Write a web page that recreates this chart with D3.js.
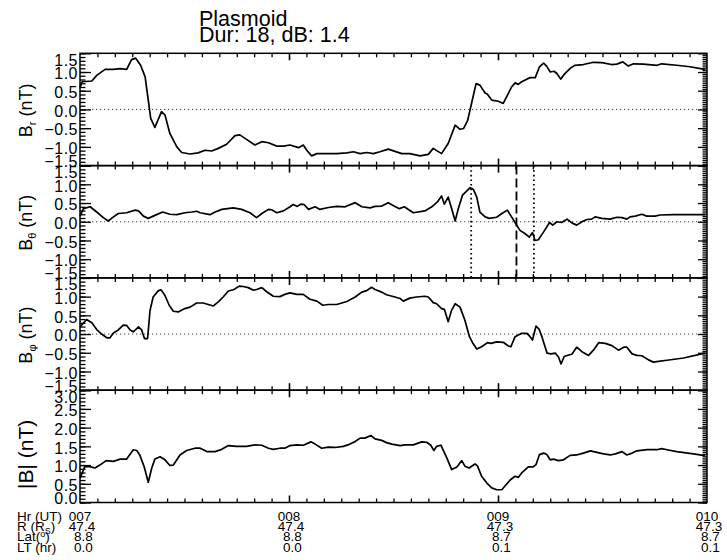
<!DOCTYPE html>
<html>
<head>
<meta charset="utf-8">
<script src="https://cdn.jsdelivr.net/npm/d3@7/dist/d3.min.js"></script>
<style>
  body { margin: 0; background: #fff; }
  text { font-family: "Liberation Sans", Arial, Helvetica, sans-serif; fill: #000; }
</style>
</head>
<body>
<svg id="chart" width="727" height="560"></svg>
<script>
// Time is minutes after 07:00 UT; field components in nT.
const brData = [[0,0.58],[0.6,0.74],[3.4,0.76],[4.8,0.91],[7.2,1.07],[9.6,1.07],[11.5,1.09],[13.4,1.07],[14.8,1.33],[16,1.37],[17.4,1.18],[18.7,0.87],[19.6,0.25],[20.3,-0.24],[21.5,-0.48],[23.4,-0.06],[24.4,-0.15],[25.8,-0.64],[27.8,-1.0],[29.2,-1.15],[31.6,-1.19],[33.9,-1.16],[35.9,-1.09],[37.8,-1.11],[39.7,-1.04],[42.1,-0.93],[44.5,-0.70],[45.9,-0.68],[47.8,-0.80],[50.2,-0.95],[52.2,-0.86],[54.1,-0.89],[56.5,-0.98],[58.4,-0.98],[60.3,-0.95],[62.7,-1.02],[64.1,-0.95],[65.1,-1.09],[66.5,-1.24],[68,-1.18],[70.8,-1.18],[73.7,-1.18],[76.6,-1.16],[78.5,-1.13],[80.4,-1.18],[82.3,-1.15],[84.2,-1.18],[86.1,-1.13],[88.5,-1.06],[90.4,-1.12],[92.4,-1.18],[94.7,-1.18],[97.6,-1.24],[100,-1.2],[101.4,-1.04],[102.4,-1.10],[103.8,-1.18],[105.7,-0.91],[107.7,-0.42],[109.1,-0.53],[110.1,-0.51],[111.3,-0.29],[112.5,0.20],[113.7,0.69],[114.8,0.65],[116.3,0.44],[116.9,0.41],[118.2,0.25],[120.1,0.22],[121.5,0.16],[122.5,0.34],[123.9,0.60],[124.9,0.71],[125.8,0.67],[126.8,0.74],[128.1,0.80],[129.2,0.85],[130.7,0.85],[131.9,1.14],[133.1,1.24],[134,1.15],[135,1.0],[136.1,1.02],[136.9,0.96],[138,0.81],[139.2,0.96],[140.9,1.11],[142.1,1.18],[144.5,1.2],[147.4,1.26],[149.8,1.25],[152.6,1.2],[154.1,1.21],[155.8,1.27],[157.4,1.16],[158.9,1.22],[161.7,1.21],[165.6,1.18],[167,1.22],[171.3,1.18],[175.1,1.14],[179.4,1.07]];

const bthData = [[0,0.15],[1,0.35],[2.9,0.40],[4.8,0.26],[6.7,0.11],[8.1,0.02],[9.6,0.13],[11,0.22],[13.4,0.24],[15.8,0.31],[16.8,0.29],[18.2,0.15],[19.6,0.09],[21.5,0.17],[23.7,0.26],[25.8,0.20],[27.8,0.19],[30.1,0.24],[32.1,0.26],[33.5,0.28],[34.5,0.24],[37.3,0.19],[38.8,0.26],[40.7,0.33],[44,0.37],[46.4,0.33],[48.8,0.24],[50.7,0.11],[52.2,0.22],[54.1,0.33],[55,0.32],[56.5,0.24],[58.4,0.29],[60.3,0.40],[61.2,0.46],[62.4,0.41],[63.4,0.47],[64.3,0.46],[65.6,0.33],[67.5,0.40],[68.9,0.33],[71.3,0.38],[73.7,0.41],[76.1,0.40],[79,0.51],[80.9,0.40],[83.3,0.37],[84.7,0.41],[86.6,0.42],[88.5,0.51],[90.4,0.41],[91.7,0.35],[93.1,0.40],[95.7,0.24],[99,0.29],[101,0.40],[102.6,0.53],[103.8,0.69],[104.6,0.47],[105.7,0.66],[106.7,0.35],[107.7,0.02],[108.6,0.35],[109.8,0.71],[111,0.82],[112,0.91],[112.9,0.87],[113.9,0.66],[114.8,0.26],[116.3,0.13],[117.5,0.09],[119.6,0.12],[121.1,0.22],[122.7,0.31],[123.9,0.13],[124.9,-0.02],[126.3,-0.23],[127.8,-0.32],[129,-0.41],[129.9,-0.29],[130.6,-0.50],[131.6,-0.48],[133.1,-0.27],[134.8,-0.02],[135.7,-0.09],[136.9,0.0],[138.3,-0.02],[139.8,0.07],[141.2,-0.03],[142.6,-0.09],[144.1,0.0],[145.5,0.06],[146.9,0.07],[147.9,0.13],[149.8,0.09],[152.2,0.07],[154.1,0.12],[155.6,0.11],[157,0.07],[157.9,0.13],[159.4,0.15],[161.3,0.20],[162.7,0.15],[165.1,0.15],[166.5,0.18],[170.4,0.19],[179.4,0.19]];

const bphData = [[0,0.19],[1.9,0.39],[3.4,0.30],[4.8,0.12],[6.2,0.0],[7.7,-0.10],[8.6,-0.10],[9.6,0.03],[11,0.11],[12.4,0.24],[13.4,0.23],[14.4,0.11],[15.3,0.06],[16.8,0.19],[17.7,0.11],[18.5,-0.12],[19.4,-0.12],[20.1,0.63],[21,0.99],[22.5,1.16],[23.3,1.18],[24.4,1.03],[25.6,0.77],[26.8,0.61],[28.2,0.59],[30.1,0.68],[31.6,0.72],[33.5,0.83],[35.4,0.83],[36.8,0.79],[38.3,0.75],[39.7,0.86],[41.1,0.99],[42.6,1.15],[44.2,1.19],[45.7,1.28],[46.9,1.27],[48.3,1.24],[49.8,1.17],[50.7,1.19],[52.2,1.24],[53.6,1.13],[55.5,1.01],[57.4,1.0],[58.8,1.06],[60.3,1.10],[62.2,1.06],[64.1,1.06],[66,0.93],[68,0.88],[69.7,0.77],[71.3,0.79],[73.7,0.79],[76.6,0.87],[79,0.99],[80.9,1.12],[82.3,1.16],[83.7,1.25],[84.7,1.19],[86.6,1.12],[88,1.05],[90.4,0.99],[91.9,0.95],[92.8,0.88],[94.7,0.96],[96.6,0.99],[99,1.01],[100,0.99],[101.4,0.84],[102.4,0.81],[103.8,0.68],[104.6,0.66],[105.7,0.33],[106.7,0.64],[107.7,0.81],[109.1,0.72],[110.5,0.37],[111.8,-0.07],[112.7,-0.23],[113.9,-0.40],[115.3,-0.34],[117,-0.23],[118,-0.25],[119.6,-0.21],[121.5,-0.22],[123,-0.32],[123.7,-0.34],[124.9,-0.07],[126.8,0.02],[128.3,0.02],[129.2,-0.07],[129.9,-0.16],[130.9,0.21],[131.8,0.13],[132.6,-0.07],[134.1,-0.51],[135.2,-0.53],[136.5,-0.51],[137.4,-0.62],[138.1,-0.80],[139,-0.60],[140.3,-0.56],[141.2,-0.54],[142.6,-0.35],[144.1,-0.47],[146,-0.57],[147.4,-0.43],[148.9,-0.23],[150.8,-0.25],[152.7,-0.31],[154.6,-0.43],[156.1,-0.35],[157,-0.35],[158.5,-0.53],[159.9,-0.57],[161.3,-0.58],[163.2,-0.69],[164.6,-0.75],[166.1,-0.73],[168.5,-0.70],[173.3,-0.64],[179.4,-0.51]];

const bmagData = [[0,0.65],[1.4,0.96],[2.9,0.96],[4.3,0.92],[5.7,1.0],[7.5,1.12],[9.6,1.10],[11.5,1.16],[13.4,1.16],[15.3,1.41],[16.3,1.39],[17.2,1.26],[18.4,0.96],[19.6,0.54],[20.6,0.92],[21.5,1.16],[23,1.22],[24.4,1.14],[25.8,0.99],[26.8,1.0],[28.7,1.27],[30.6,1.39],[33,1.45],[34.5,1.45],[36.4,1.36],[38.8,1.36],[40.7,1.42],[42.6,1.52],[45,1.50],[47.8,1.50],[50.2,1.54],[52.2,1.53],[54.1,1.45],[55.5,1.42],[57.4,1.45],[58.8,1.45],[60.3,1.52],[62.2,1.54],[64.1,1.53],[66.3,1.62],[67.5,1.56],[69.4,1.45],[71.3,1.48],[73.2,1.47],[75.6,1.50],[77.5,1.56],[79,1.63],[80.4,1.72],[81.8,1.72],[83.5,1.79],[84.7,1.70],[86.6,1.66],[88,1.60],[89.5,1.56],[91.9,1.52],[93.3,1.54],[95.7,1.54],[98.1,1.62],[99.5,1.61],[100.7,1.53],[101.6,1.39],[102.4,1.50],[103.6,1.53],[105.3,1.19],[106.7,0.88],[108.2,0.95],[109.6,1.12],[110.5,0.97],[111.7,0.92],[113.4,1.03],[114.1,0.98],[115.3,0.70],[116.8,0.52],[118.2,0.39],[119.6,0.34],[121.1,0.34],[122,0.44],[123.5,0.60],[124.9,0.70],[125.8,0.67],[126.8,0.79],[128.7,0.95],[130.1,0.95],[130.9,1.01],[131.9,1.28],[133.1,1.32],[134,1.28],[135,1.14],[135.9,1.16],[137.4,1.12],[138.8,1.14],[140.7,1.26],[142.6,1.27],[144.5,1.32],[146.5,1.38],[148.4,1.34],[150.3,1.30],[152.2,1.27],[153.7,1.30],[155.6,1.36],[157,1.27],[158.5,1.32],[159.9,1.38],[162.8,1.41],[165.6,1.41],[167,1.44],[168.5,1.41],[171.3,1.36],[176.1,1.30],[179.4,1.25]];

// Event boundaries (minutes after 07:00): start, centre, end
const eventStart = 112.3, eventCentre = 125.3, eventEnd = 130.3;

// Tick values
const compTicks = [-1.5, -1.0, -0.5, 0.0, 0.5, 1.0, 1.5];
const magTicks = [0.0, 0.5, 1.0, 1.5, 2.0, 2.5, 3.0];

// Ephemeris rows under the time axis
const hourTicks = [0, 60, 120, 180];
const hrLabels = ["007", "008", "009", "010"];
const rLabels = ["47.4", "47.4", "47.3", "47.3"];
const latLabels = ["8.8", "8.8", "8.7", "8.7"];
const ltLabels = ["0.0", "0.0", "0.1", "0.1"];

const titleLines = ["Plasmoid", "Dur: 18, dB: 1.4"];

const svg = d3.select("#chart");
const xL = 80, xR = 707;
const x = d3.scaleLinear().domain([0, 180]).range([xL, xR]);
const tops = [53.3, 165.6, 277.9, 390.2];
const ph = 112.3;

const panels = [
  { data: brData, domain: [-1.5, 1.5], ticks: compTicks, zero: true, label: ["B", "r"] },
  { data: bthData, domain: [-1.5, 1.5], ticks: compTicks, zero: true, label: ["B", "θ"] },
  { data: bphData, domain: [-1.5, 1.5], ticks: compTicks, zero: true, label: ["B", "φ"] },
  { data: bmagData, domain: [0, 3.0], ticks: magTicks, zero: false, label: ["|B|", null] }
];

const minorX = d3.range(0, 181, 5);

panels.forEach((p, i) => {
  const top = tops[i], bot = top + ph;
  const y = d3.scaleLinear().domain(p.domain).range([bot, top]);
  const g = svg.append("g");
  const minorY = d3.range(p.domain[0], p.domain[1] + 1e-6, 0.1).map(v => +v.toFixed(2));
  const minorYR = d3.range(p.domain[0], p.domain[1] + 1e-6, 0.05).map(v => +v.toFixed(2));

  // zero reference line
  if (p.zero) {
    g.append("line").attr("x1", xL).attr("x2", xR).attr("y1", y(0)).attr("y2", y(0))
      .attr("stroke", "#444").attr("stroke-width", 1).attr("stroke-dasharray", "1.3,2.7");
  }

  // left axis: minor and major ticks, labels
  g.append("g").attr("transform", `translate(${xL},0)`)
    .call(d3.axisLeft(y).tickValues(minorY).tickSize(-5.5).tickFormat(""))
    .call(a => a.select(".domain").remove())
    .call(a => a.selectAll("line").attr("stroke", "#000").attr("stroke-width", 1.3));
  const la = g.append("g").attr("transform", `translate(${xL},0)`)
    .call(d3.axisLeft(y).tickValues(p.ticks).tickSize(-11).tickPadding(2).tickFormat(d3.format(".1f")))
    .call(a => a.select(".domain").remove())
    .call(a => a.selectAll("line").attr("stroke", "#000").attr("stroke-width", 1.3));
  la.selectAll("text").attr("font-size", 16).attr("font-family", "Liberation Sans, Arial, sans-serif")
    .attr("letter-spacing", "0.5px").attr("fill", "#000")
    .attr("dy", (d, k) => k === p.ticks.length - 1 ? "0.75em" : (k === 0 ? "0.05em" : "0.42em"));

  // right axis ticks
  g.append("g").attr("transform", `translate(${xR},0)`)
    .call(d3.axisRight(y).tickValues(minorYR).tickSize(-4.5).tickFormat(""))
    .call(a => a.select(".domain").remove())
    .call(a => a.selectAll("line").attr("stroke", "#000").attr("stroke-width", 1.2));
  g.append("g").attr("transform", `translate(${xR},0)`)
    .call(d3.axisRight(y).tickValues(p.ticks).tickSize(-9).tickFormat(""))
    .call(a => a.select(".domain").remove())
    .call(a => a.selectAll("line").attr("stroke", "#000").attr("stroke-width", 1.3));

  // top and bottom time ticks
  [[top, 1], [bot, -1]].forEach(([yy, dir]) => {
    g.append("g").attr("transform", `translate(0,${yy})`)
      .call((dir > 0 ? d3.axisTop(x) : d3.axisBottom(x)).tickValues(minorX.filter(v => v % 60 !== 0)).tickSize(-4).tickFormat(""))
      .call(a => a.select(".domain").remove())
      .call(a => a.selectAll("line").attr("stroke", "#000").attr("stroke-width", 1.3));
    g.append("g").attr("transform", `translate(0,${yy})`)
      .call((dir > 0 ? d3.axisTop(x) : d3.axisBottom(x)).tickValues(hourTicks.slice(1, 3)).tickSize(-7).tickFormat(""))
      .call(a => a.select(".domain").remove())
      .call(a => a.selectAll("line").attr("stroke", "#000").attr("stroke-width", 1.6));
  });

  // data line
  g.append("path").datum(p.data)
    .attr("fill", "none").attr("stroke", "#000").attr("stroke-width", 1.7)
    .attr("stroke-linejoin", "round")
    .attr("d", d3.line().x(d => x(d[0])).y(d => y(d[1])));

  // event markers on the B-theta panel
  if (i === 1) {
    [[eventStart, "1.6,3"], [eventCentre, "9,4"], [eventEnd, "1.6,3"]].forEach(([t, dash]) => {
      g.append("line").attr("x1", x(t)).attr("x2", x(t)).attr("y1", top).attr("y2", bot)
        .attr("stroke", "#000").attr("stroke-width", 1.8).attr("stroke-dasharray", dash);
    });
  }

  // frame
  g.append("rect").attr("x", xL).attr("y", top).attr("width", xR - xL).attr("height", ph)
    .attr("fill", "none").attr("stroke", "#000").attr("stroke-width", 1.5);

  // y-axis title
  const cy = i === 3 ? top + ph / 2 + 8 : top + ph / 2 + 1;
  const t = svg.append("text")
    .attr("transform", `translate(${i === 3 ? 33 : 32},${cy}) rotate(-90)`)
    .attr("text-anchor", "middle").attr("font-size", i === 3 ? 21 : 18);
  t.append("tspan").text(p.label[0]);
  if (p.label[1]) t.append("tspan").attr("font-size", 11).attr("dy", 4).text(p.label[1]);
  t.append("tspan").attr("dy", p.label[1] ? -4 : 0).text(" (nT)");
});

// title
const title = svg.append("text").attr("x", 199).attr("font-size", 21.5);
titleLines.forEach((s, k) => title.append("tspan").attr("x", 199).attr("y", 26 + k * 16.3).text(s));

// ephemeris labels under the time axis
const rowY = [520.5, 530.8, 541.2, 551.5];
const rows = [hrLabels, rLabels, latLabels, ltLabels];
const rowDx = [0, 2, 3.5, 3.5];
rows.forEach((labels, r) => {
  svg.append("g").selectAll("text").data(hourTicks).join("text")
    .attr("x", d => x(d) + rowDx[r])
    .attr("y", rowY[r]).attr("text-anchor", "middle").attr("font-size", 13.5)
    .text((d, k) => labels[k]);
});

// row captions on the left
const cap = svg.append("g").attr("font-size", 13.5);
cap.append("text").attr("x", 17).attr("y", rowY[0]).text("Hr (UT)");
const rc = cap.append("text").attr("x", 17).attr("y", rowY[1]);
rc.append("tspan").text("R (R");
rc.append("tspan").attr("font-size", 9).attr("dy", 3).text("S");
rc.append("tspan").attr("dy", -3).text(")");
const lc = cap.append("text").attr("x", 17).attr("y", rowY[2]);
lc.append("tspan").text("Lat(");
lc.append("tspan").attr("font-size", 9).attr("dy", -4).text("o");
lc.append("tspan").attr("dy", 4).text(")");
cap.append("text").attr("x", 17).attr("y", rowY[3]).text("LT (hr)");
</script>
</body>
</html>
